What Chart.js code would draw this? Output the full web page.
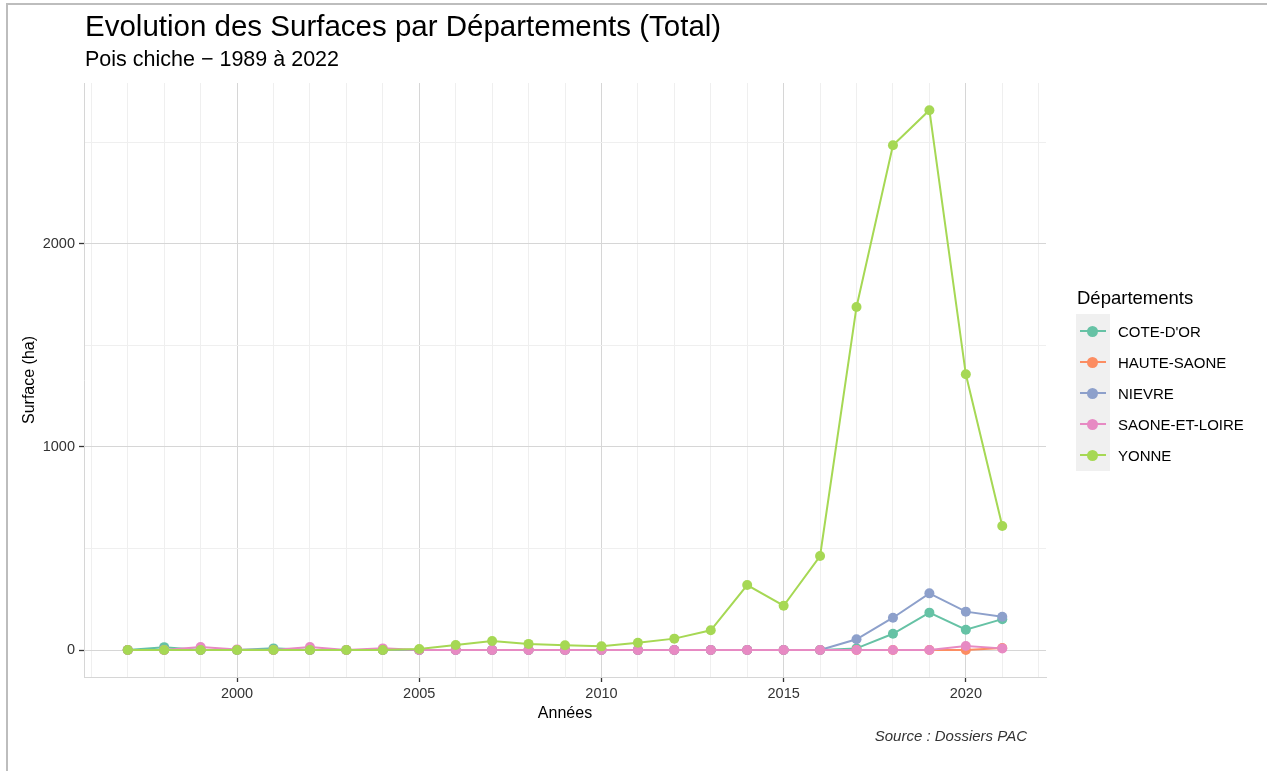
<!DOCTYPE html>
<html>
<head>
<meta charset="utf-8">
<script src="https://cdn.jsdelivr.net/npm/chart.js@4/dist/chart.umd.min.js"></script>
<style>
  body { margin: 0; background: #fff; font-family: "Liberation Sans", Arial, sans-serif; }
  #wrap { position: relative; width: 1267px; height: 771px; overflow: hidden; }
  #frame { position: absolute; left: 6px; top: 3px; right: -10px; bottom: -10px; border-left: 2px solid #bdbdbd; border-top: 2px solid #bdbdbd; }
  canvas { position: absolute; left: 0; top: 0; }
  .title { position: absolute; left: 85px; top: 9px; font-size: 29.5px; color: #000; }
  .subtitle { position: absolute; left: 85px; top: 47px; font-size: 21.5px; color: #000; }
  .source { position: absolute; right: 240px; top: 727px; font-size: 15px; font-style: italic; color: #333; }
  #legend { position: absolute; left: 1077px; top: 287px; }
  #legend .lt { font-size: 18.5px; color: #000; margin-bottom: 7px; }
  #legend .keys { position: absolute; left: -1px; top: 27px; width: 34px; height: 157px; background: #f0f0f0; }
  #legend .item { position: relative; height: 31px; display: flex; align-items: center; }
  #legend .sym { position: relative; width: 32px; height: 31px; }
  #legend .sym .ln { position: absolute; left: 3px; width: 26px; top: 14px; height: 2px; }
  #legend .sym .pt { position: absolute; left: 10px; top: 10px; width: 11px; height: 11px; border-radius: 50%; }
  #legend .lab { margin-left: 9px; font-size: 15px; color: #000; }
</style>
</head>
<body>
<div id="wrap">
  <div id="frame"></div>
  <canvas id="c" width="1267" height="771"></canvas>
  <div class="title">Evolution des Surfaces par Départements (Total)</div>
  <div class="subtitle">Pois chiche − 1989 à 2022</div>
  <div class="source">Source : Dossiers PAC</div>
  <div id="legend"></div>
</div>
<script>
// values (ha)
const years = [1997, 1998, 1999, 2000, 2001, 2002, 2003, 2004, 2005, 2006, 2007, 2008, 2009,
               2010, 2011, 2012, 2013, 2014, 2015, 2016, 2017, 2018, 2019, 2020, 2021];
const coteDor =      [0, 14, 0, 0, 8, 0, 0, 0, 0, 0, 0, 0, 0, 0, 0, 0, 0, 0, 0, 0, 8, 80, 184, 100, 152];
const hauteSaone =   [0, 0, 0, 0, 0, 0, 0, 0, 0, 0, 0, 0, 0, 0, 0, 0, 0, 0, 0, 0, 0, 0, 0, 0, 10];
const nievre =       [0, 0, 0, 0, 0, 0, 0, 0, 0, 0, 0, 0, 0, 0, 0, 0, 0, 0, 0, 0, 53, 159, 279, 189, 164];
const saoneEtLoire = [0, 0, 15, 3, 0, 15, 0, 8, 0, 0, 0, 0, 0, 0, 0, 0, 0, 0, 0, 0, 0, 0, 0, 20, 8];
const yonne =        [0, 0, 0, 0, 0, 0, 0, 0, 5, 25, 44, 30, 23, 18, 36, 56, 97, 320, 218, 463, 1690, 2486, 2659, 1358, 611];

const departements = ['COTE-D\'OR', 'HAUTE-SAONE', 'NIEVRE', 'SAONE-ET-LOIRE', 'YONNE'];
const seriesValues = [coteDor, hauteSaone, nievre, saoneEtLoire, yonne];
const colors = ['#66C2A5', '#FC8D62', '#8DA0CB', '#E78AC3', '#A6D854'];
const xTickLabels = [2000, 2005, 2010, 2015, 2020];
const xGridYears = [1996, 1997, 1998, 1999, 2000, 2001, 2002, 2003, 2004, 2005, 2006, 2007, 2008,
                    2009, 2010, 2011, 2012, 2013, 2014, 2015, 2016, 2017, 2018, 2019, 2020, 2021, 2022];
const yTickLabels = [0, 1000, 2000];
const yGridValues = [0, 500, 1000, 1500, 2000, 2500];

const datasets = departements.map((name, i) => ({
  label: name,
  data: years.map((y, j) => ({ x: y, y: seriesValues[i][j] })),
  borderColor: colors[i],
  backgroundColor: colors[i],
  borderWidth: 2,
  pointRadius: 5,
  pointHoverRadius: 5,
  pointBorderWidth: 0,
  order: departements.length - i
}));

const gridColor = (majors) => (ctx) => {
  if (!ctx.tick) return 'transparent';
  return majors.includes(ctx.tick.value) ? '#d6d6d6' : '#efefef';
};
const tickMarkColor = (majors) => (ctx) =>
  (ctx.tick && majors.includes(ctx.tick.value)) ? '#333' : 'transparent';

new Chart(document.getElementById('c'), {
  type: 'line',
  data: { datasets },
  options: {
    responsive: false,
    animation: false,
    layout: { padding: { left: 16, top: 83, right: 221, bottom: 48 } },
    plugins: { legend: { display: false }, tooltip: { enabled: false } },
    scales: {
      x: {
        type: 'linear',
        min: 1995.8, max: 2022.2,
        afterBuildTicks: (s) => { s.ticks = xGridYears.map(v => ({ value: v })); },
        afterFit: (s) => { s.height = 46; },
        ticks: {
          autoSkip: false, maxRotation: 0,
          padding: 3, color: '#333', font: { size: 14.5, family: 'Liberation Sans' },
          callback: (v) => xTickLabels.includes(v) ? String(v) : ''
        },
        grid: { color: gridColor(xTickLabels), tickColor: tickMarkColor(xTickLabels), tickLength: 5, tickWidth: 1.3 },
        border: { display: true, color: '#d6d6d6' },
        title: { display: true, text: 'Années', color: '#000', padding: { top: 2, bottom: 0 }, font: { size: 16, family: 'Liberation Sans' } }
      },
      y: {
        type: 'linear',
        min: -133, max: 2793,
        afterBuildTicks: (s) => { s.ticks = yGridValues.map(v => ({ value: v })); },
        afterFit: (s) => { s.width = 68; },
        ticks: {
          autoSkip: false,
          padding: 4, color: '#333', font: { size: 14.5, family: 'Liberation Sans' },
          callback: (v) => yTickLabels.includes(v) ? String(v) : ''
        },
        grid: { color: gridColor(yTickLabels), tickColor: tickMarkColor(yTickLabels), tickLength: 5, tickWidth: 1.3 },
        border: { display: true, color: '#d6d6d6' },
        title: { display: true, text: 'Surface (ha)', color: '#000', padding: { top: 4, bottom: 0 }, font: { size: 16, family: 'Liberation Sans' } }
      }
    }
  }
});

// legend
const leg = document.getElementById('legend');
let html = '<div class="lt">Départements</div><div class="keys"></div>';
departements.forEach((name, i) => {
  html += '<div class="item"><div class="sym"><div class="ln" style="background:' + colors[i] +
    '"></div><div class="pt" style="background:' + colors[i] + '"></div></div><div class="lab">' + name + '</div></div>';
});
leg.innerHTML = html;
</script>
</body>
</html>
